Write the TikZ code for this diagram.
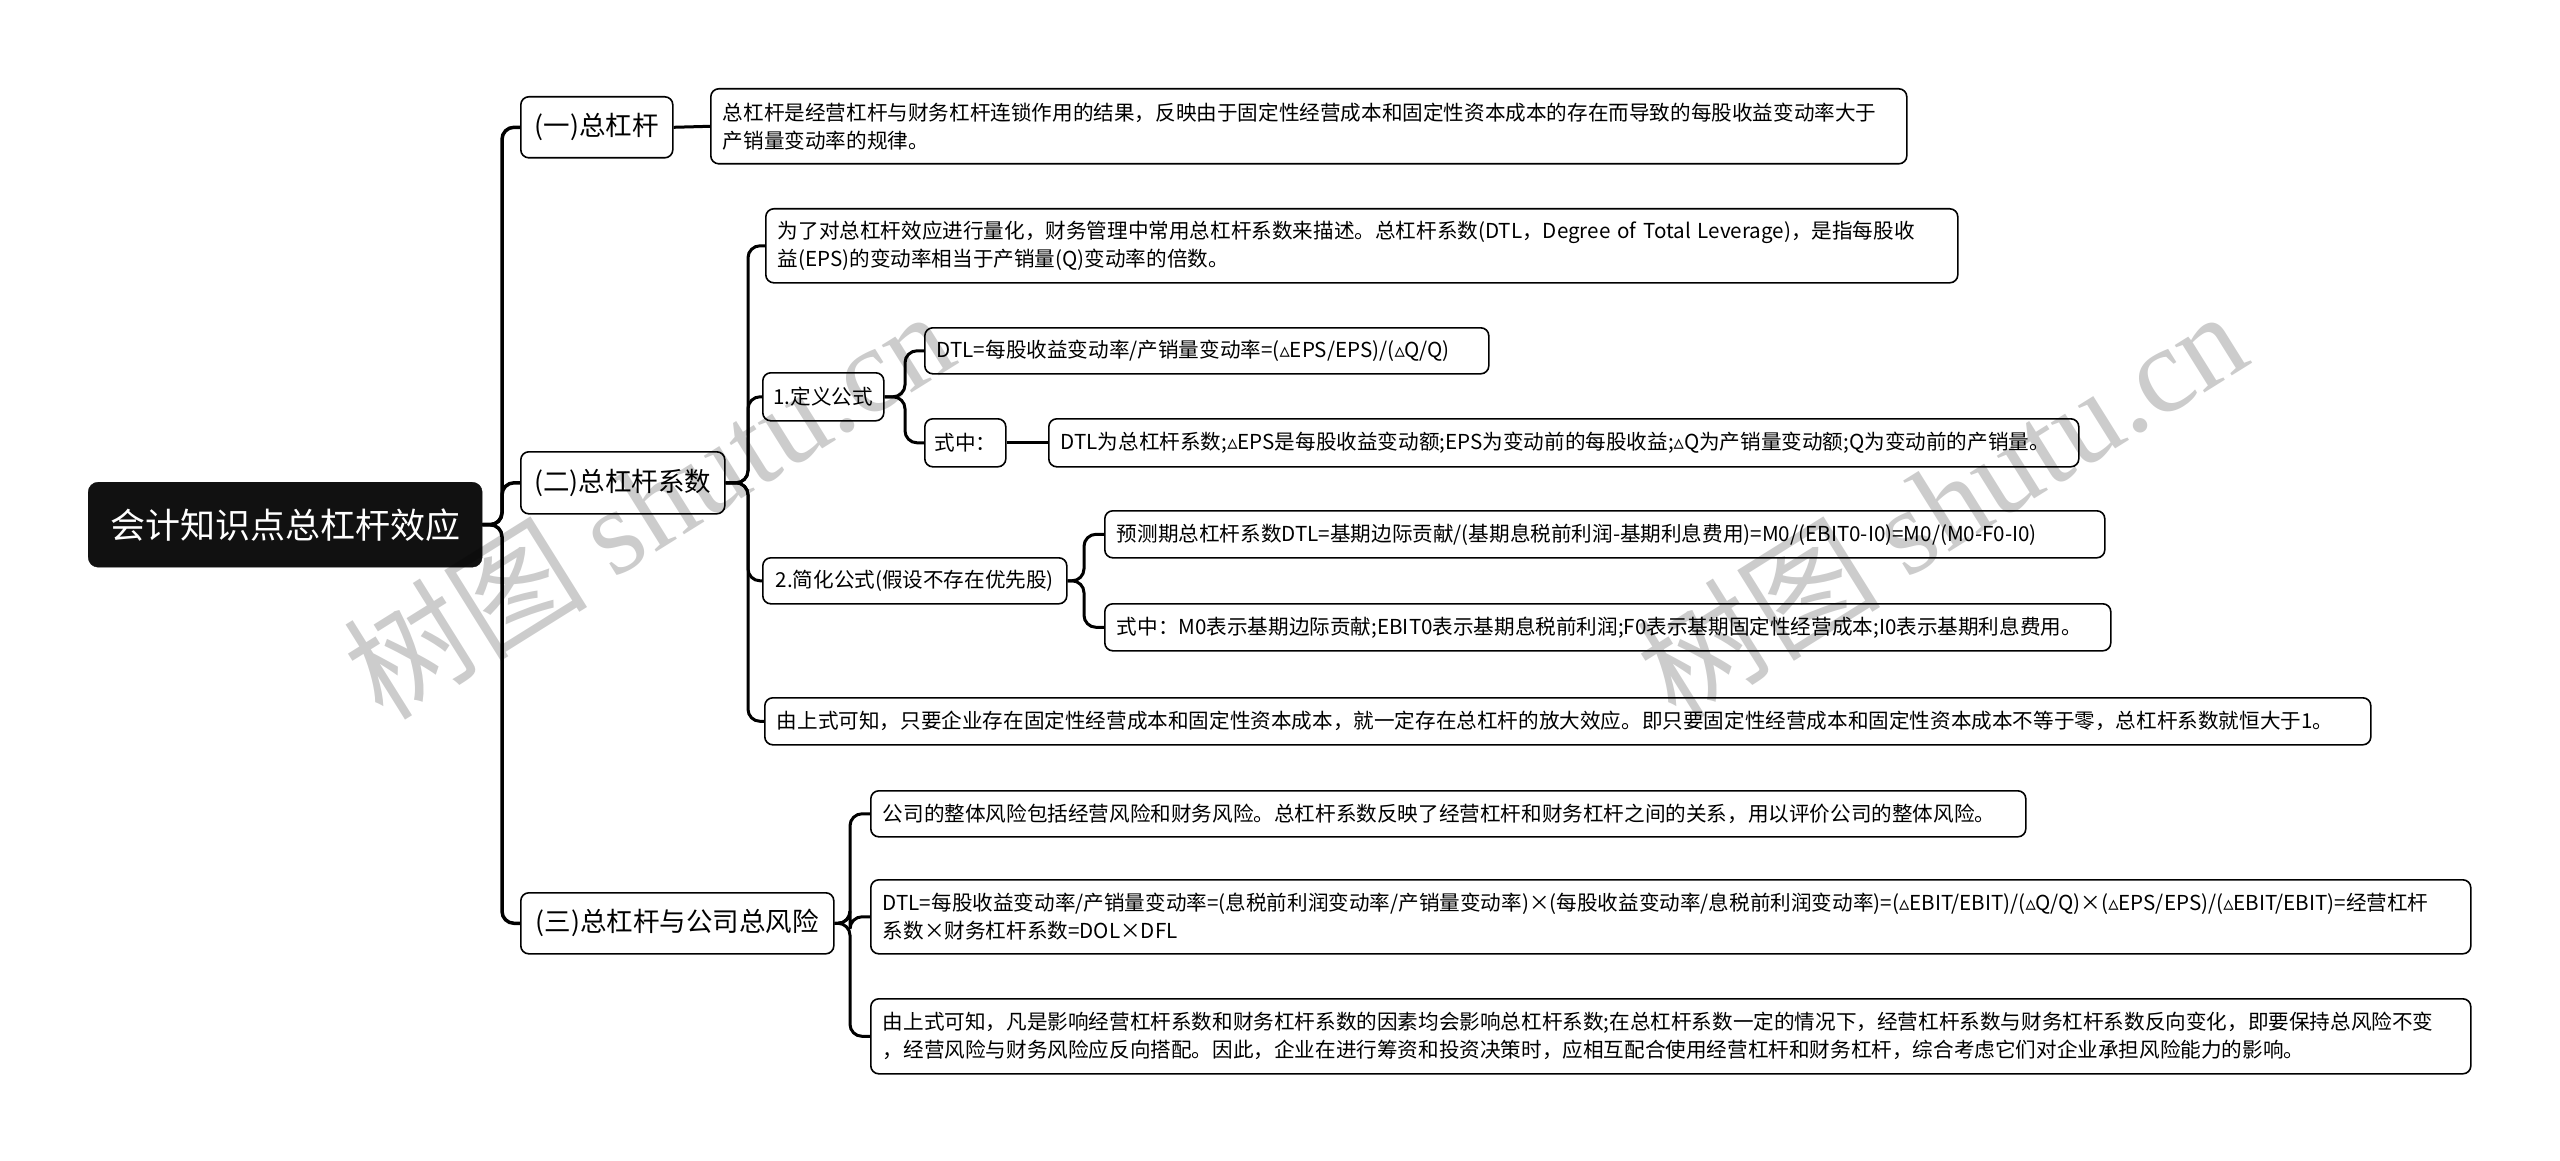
\documentclass[tikz,border=0pt]{standalone}
\usepackage{fontspec}
\setmainfont{Noto Sans CJK SC}
\newfontfamily\dvfont{DejaVu Sans}
\newfontfamily\wmserif{Liberation Serif}
\newcommand\tri{{\dvfont ▵}}
\definecolor{rootblack}{HTML}{111111}
\tikzset{
  rootbox/.style={fill=rootblack, draw=rootblack, rounded corners=10pt, text=white,
    font=\fontsize{35pt}{40pt}\selectfont, anchor=north west, inner sep=0pt},
  lone/.style={draw=black, line width=1.6pt, rounded corners=8pt, fill=white,
    anchor=north west, inner sep=0pt, font=\fontsize{26.5pt}{30pt}\selectfont},
  leaf/.style={draw=black, line width=1.6pt, rounded corners=8pt, fill=white,
    anchor=north west, inner sep=0pt, align=left, font=\fontsize{20.6pt}{28pt}\selectfont},
  leafw/.style={leaf, inner xsep=12pt, text width=#1},
  conn/.style={draw=black, line width=3pt, rounded corners=12pt},
  trunk/.style={conn, line width=3.5pt},
  wm/.style={text=black, text opacity=0.2, rotate=32, inner sep=0pt,
    font=\fontsize{122pt}{122pt}\selectfont}
}
\begin{document}
\begin{tikzpicture}[x=1pt,y=-1pt]
\useasboundingbox (0,0) rectangle (2560,1161);
% bar coordinates
\coordinate (t0) at (502,0);
\coordinate (b2) at (748,0);
\coordinate (b3) at (905,0);
\coordinate (b4) at (1084,0);
\coordinate (b5) at (850,0);
% root
\node[rootbox, minimum width=394pt, minimum height=85pt] (root) at (88,482) {会计知识点总杠杆效应};
% level 1
\node[lone, minimum width=152pt, minimum height=61pt] (n1) at (520,96) {(一)总杠杆};
\node[lone, minimum width=204pt, minimum height=62pt] (n2) at (520,451) {(二)总杠杆系数};
\node[lone, minimum width=313pt, minimum height=61pt] (n3) at (520,892) {(三)总杠杆与公司总风险};
% (一) detail
\node[leafw=1172pt, minimum height=75pt] (t1) at (710,88)
  {\mbox{总杠杆是经营杠杆与财务杠杆连锁作用的结果，反映由于固定性经营成本和固定性资本成本的存在而导致的每股收益变动率大于}\\产销量变动率的规律。};
% (二) children
\node[leafw=1168pt, minimum height=74pt] (a) at (765,208)
  {\mbox{为了对总杠杆效应进行量化，财务管理中常用总杠杆系数来描述。总杠杆系数(DTL，Degree of Total Leverage)，是指每股收}\\益(EPS)的变动率相当于产销量(Q)变动率的倍数。};
\node[leaf, minimum width=121pt, minimum height=48pt] (b) at (762,372) {1.定义公式};
\node[leaf, minimum width=304pt, minimum height=46pt] (c) at (762,557) {2.简化公式(假设不存在优先股)};
\node[leafw=1582pt, minimum height=47pt] (d) at (764,697)
  {\mbox{由上式可知，只要企业存在固定性经营成本和固定性资本成本，就一定存在总杠杆的放大效应。即只要固定性经营成本和固定性资本成本不等于零，总杠杆系数就恒大于1。}};
% B children
\node[leafw=540pt, minimum height=46pt] (b1) at (924,327)
  {\mbox{DTL=每股收益变动率/产销量变动率=(\tri EPS/EPS)/(\tri Q/Q)}};
\node[leaf, minimum width=81pt, minimum height=48pt] (b2n) at (924,418) {式中：};
\node[leafw=1006pt, minimum height=48pt] (b3n) at (1048,418)
  {\mbox{DTL为总杠杆系数;\tri EPS是每股收益变动额;EPS为变动前的每股收益;\tri Q为产销量变动额;Q为变动前的产销量。}};
% C children
\node[leafw=976pt, minimum height=47pt] (c1) at (1104,510)
  {\mbox{预测期总杠杆系数DTL=基期边际贡献/(基期息税前利润-基期利息费用)=M0/(EBIT0-I0)=M0/(M0-F0-I0)}};
\node[leafw=982pt, minimum height=47pt] (c2) at (1104,603)
  {\mbox{式中：M0表示基期边际贡献;EBIT0表示基期息税前利润;F0表示基期固定性经营成本;I0表示基期利息费用。}};
% (三) children
\node[leafw=1131pt, minimum height=46pt] (e1) at (870,790)
  {\mbox{公司的整体风险包括经营风险和财务风险。总杠杆系数反映了经营杠杆和财务杠杆之间的关系，用以评价公司的整体风险。}};
\node[leafw=1576pt, minimum height=74pt] (e2) at (870,879)
  {\mbox{DTL=每股收益变动率/产销量变动率=(息税前利润变动率/产销量变动率)×(每股收益变动率/息税前利润变动率)=(\tri EBIT/EBIT)/(\tri Q/Q)×(\tri EPS/EPS)/(\tri EBIT/EBIT)=经营杠杆}\\系数×财务杠杆系数=DOL×DFL};
\node[leafw=1576pt, minimum height=75pt] (e3) at (870,998)
  {\mbox{由上式可知，凡是影响经营杠杆系数和财务杠杆系数的因素均会影响总杠杆系数;在总杠杆系数一定的情况下，经营杠杆系数与财务杠杆系数反向变化，即要保持总风险不变}\\\mbox{，经营风险与财务风险应反向搭配。因此，企业在进行筹资和投资决策时，应相互配合使用经营杠杆和财务杠杆，综合考虑它们对企业承担风险能力的影响。}};
% connectors
\foreach \k in {n1,n2,n3} \draw[trunk] (root.east) -- (root.east -| t0) |- (\k.west);
\draw[conn] (n1.east) -- (t1.west);
\foreach \k in {a,b,c,d} \draw[conn] (n2.east) -- (n2.east -| b2) |- (\k.west);
\foreach \k in {b1,b2n} \draw[conn] (b.east) -- (b.east -| b3) |- (\k.west);
\draw[conn] (b2n.east) -- (b3n.west);
\foreach \k in {c1,c2} \draw[conn] (c.east) -- (c.east -| b4) |- (\k.west);
\foreach \k in {e1,e2,e3} \draw[conn] (n3.east) -- (n3.east -| b5) |- (\k.west);
% watermarks
\node[wm] (wm1) at (648,503) {树图 {\wmserif shutu.cn}};
\node[wm] (wm2) at (1941,503) {树图 {\wmserif shutu.cn}};
\end{tikzpicture}
\end{document}
